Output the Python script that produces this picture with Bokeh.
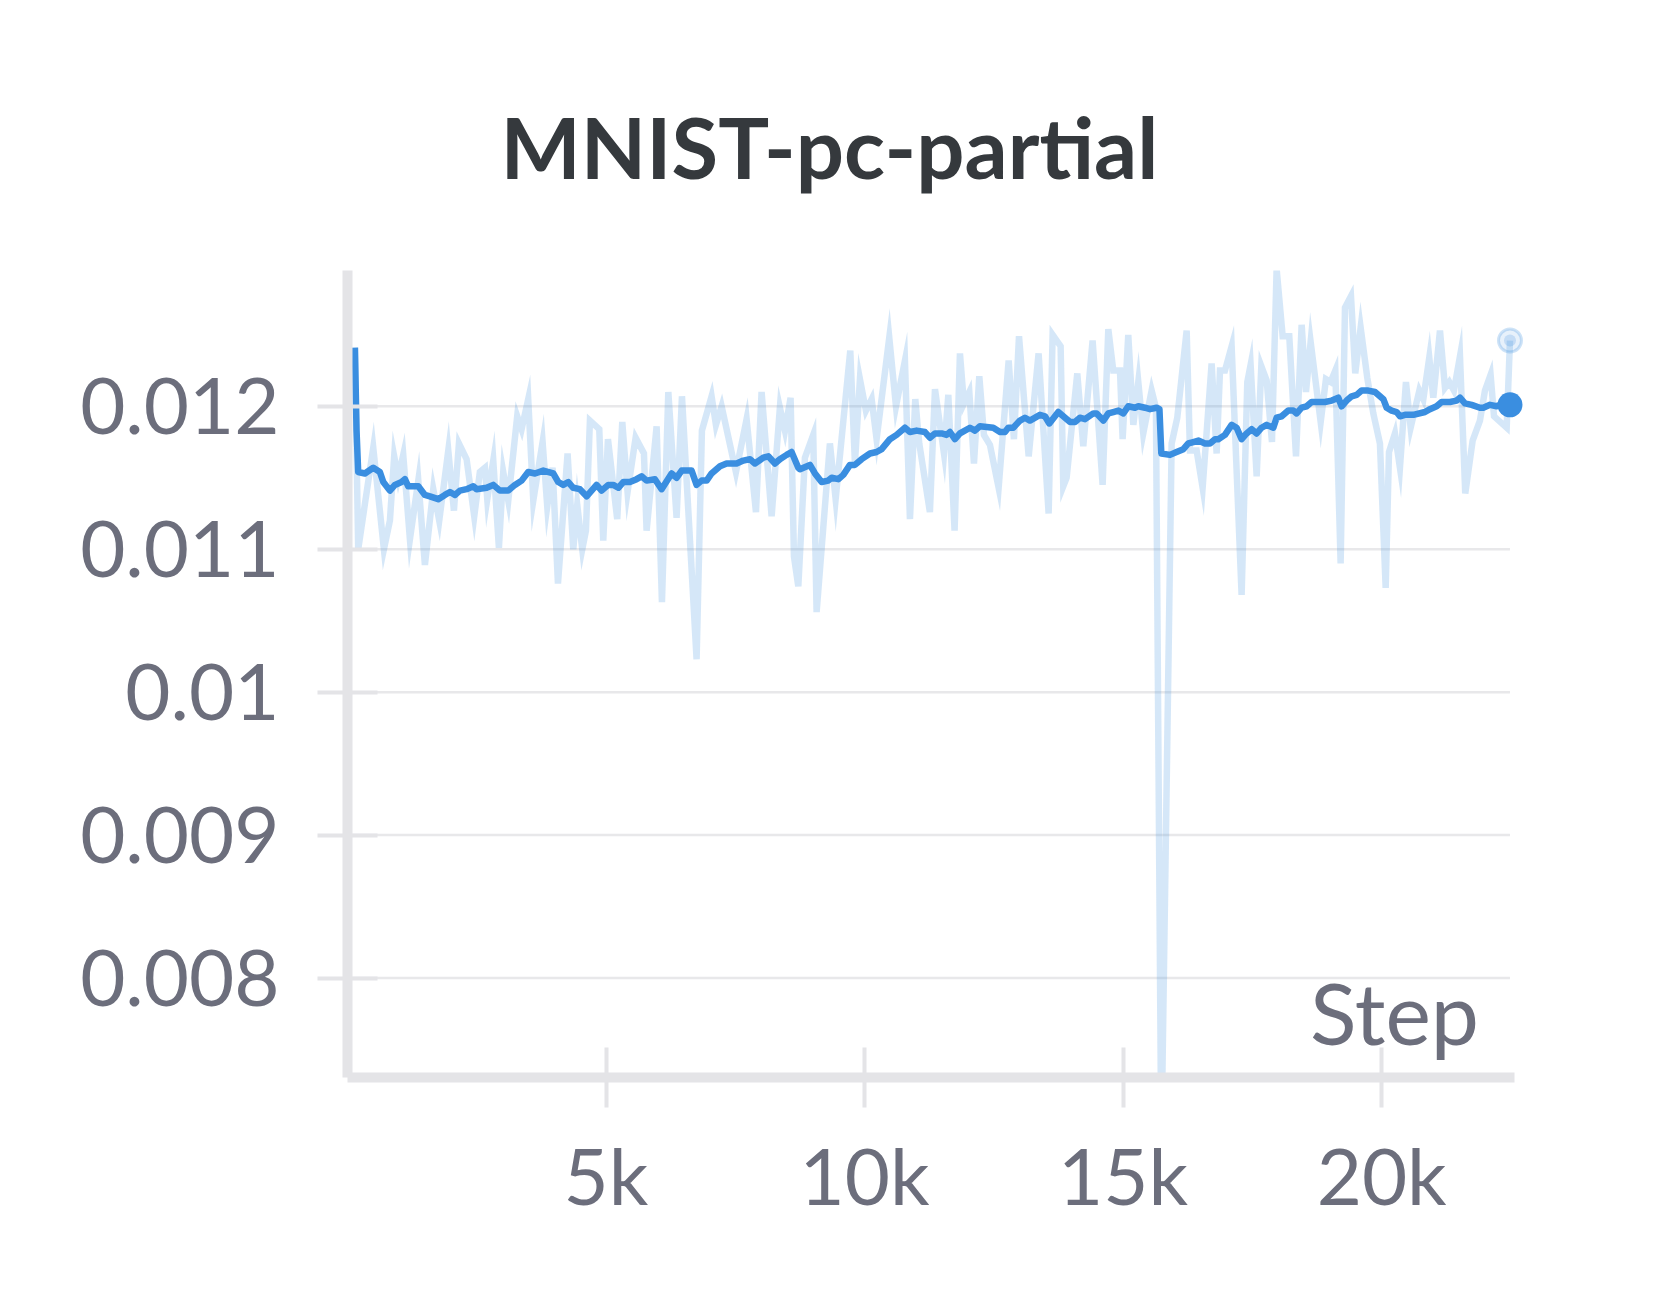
from bokeh.plotting import figure
from bokeh.models import Range1d, FixedTicker, Label
from bokeh.embed import file_html
from bokeh.resources import INLINE

title_text = "MNIST-pc-partial"
x_label_text = "Step"

x_ticks = [5000, 10000, 15000, 20000]
x_tick_labels = ["5k", "10k", "15k", "20k"]
y_ticks = [0.008, 0.009, 0.010, 0.011, 0.012]
y_tick_labels = ["0.008", "0.009", "0.01", "0.011", "0.012"]

raw_steps = [
    143, 207, 498, 704, 820, 903, 981, 1078, 1207, 1369,
    1497, 1659, 1774, 1949, 2058, 2155, 2303, 2451, 2560, 2658,
    2703, 2819, 2928, 3012, 3109, 3282, 3367, 3495, 3593, 3773,
    3863, 3966, 4070, 4256, 4366, 4443, 4540, 4611, 4688, 4869,
    4946, 5037, 5216, 5314, 5416, 5572, 5733, 5784, 5978, 6081,
    6204, 6364, 6468, 6751, 6854, 7041, 7125, 7235, 7512, 7718,
    7899, 8008, 8202, 8362, 8460, 8569, 8634, 8718, 8846, 9007,
    9072, 9329, 9440, 9723, 9813, 9910, 10026, 10136, 10232, 10477,
    10607, 10780, 10877, 10980, 11057, 11263, 11361, 11535, 11619, 11740,
    11844, 11921, 12025, 12115, 12218, 12308, 12424, 12592, 12786, 12888,
    12986, 13173, 13365, 13559, 13636, 13791, 13842, 13907, 14113, 14229,
    14409, 14603, 14713, 14809, 14939, 14990, 15099, 15197, 15293, 15389,
    15551, 15634, 15738, 15938, 16047, 16228, 16292, 16421, 16537, 16711,
    16808, 16873, 16969, 17098, 17291, 17401, 17465, 17582, 17672, 17775,
    17878, 17968, 18085, 18213, 18343, 18452, 18536, 18626, 18820, 18922,
    19013, 19103, 19206, 19290, 19406, 19489, 19593, 19721, 19838, 19966,
    20077, 20141, 20256, 20353, 20469, 20560, 20728, 20805, 20920, 20998,
    21127, 21224, 21307, 21397, 21514, 21616, 21759, 21900, 21997, 22106,
    22172, 22417, 22481,
]
raw_values = [
    0.01241, 0.01100, 0.01171, 0.01100, 0.01120, 0.01165, 0.01150, 0.01166, 0.01107, 0.01148,
    0.01089, 0.01142, 0.01120, 0.01169, 0.01127, 0.01174, 0.01163, 0.01123, 0.01154, 0.01157,
    0.01135, 0.01162, 0.01101, 0.01154, 0.01134, 0.01193, 0.01184, 0.01205, 0.01134, 0.01175,
    0.01130, 0.01157, 0.01076, 0.01167, 0.01100, 0.01131, 0.01100, 0.01113, 0.01190, 0.01184,
    0.01106, 0.01177, 0.01121, 0.01189, 0.01140, 0.01178, 0.01167, 0.01113, 0.01186, 0.01063,
    0.01210, 0.01122, 0.01207, 0.01023, 0.01183, 0.01207, 0.01187, 0.01200, 0.01154, 0.01191,
    0.01126, 0.01210, 0.01123, 0.01199, 0.01183, 0.01206, 0.01095, 0.01074, 0.01164, 0.01180,
    0.01056, 0.01174, 0.01135, 0.01239, 0.01160, 0.01219, 0.01197, 0.01205, 0.01177, 0.01248,
    0.01200, 0.01232, 0.01121, 0.01205, 0.01174, 0.01126, 0.01212, 0.01167, 0.01208, 0.01113,
    0.01237, 0.01202, 0.01210, 0.01160, 0.01221, 0.01180, 0.01173, 0.01143, 0.01232, 0.01177,
    0.01249, 0.01165, 0.01237, 0.01125, 0.01250, 0.01242, 0.01144, 0.01150, 0.01223, 0.01172,
    0.01246, 0.01145, 0.01254, 0.01225, 0.01225, 0.01177, 0.01250, 0.01187, 0.01217, 0.01181,
    0.01211, 0.01199, 0.00680, 0.01174, 0.01192, 0.01253, 0.01169, 0.01169, 0.01143, 0.01230,
    0.01167, 0.01225, 0.01225, 0.01242, 0.01068, 0.01217, 0.01229, 0.01151, 0.01228, 0.01218,
    0.01175, 0.01296, 0.01249, 0.01249, 0.01165, 0.01257, 0.01210, 0.01245, 0.01189, 0.01219,
    0.01217, 0.01225, 0.01090, 0.01269, 0.01277, 0.01223, 0.01255, 0.01220, 0.01195, 0.01174,
    0.01073, 0.01168, 0.01181, 0.01157, 0.01217, 0.01185, 0.01211, 0.01205, 0.01234, 0.01206,
    0.01253, 0.01213, 0.01217, 0.01211, 0.01235, 0.01139, 0.01176, 0.01190, 0.01211, 0.01222,
    0.01193, 0.01185, 0.01246,
]

smooth_steps = [
    143, 175, 207, 336, 498, 626, 692, 820, 917, 1046,
    1110, 1175, 1369, 1497, 1593, 1755, 1884, 1981, 2077, 2174,
    2303, 2432, 2496, 2690, 2819, 2947, 3044, 3109, 3238, 3367,
    3495, 3625, 3786, 3979, 4076, 4172, 4270, 4366, 4494, 4624,
    4817, 4914, 5043, 5139, 5237, 5333, 5461, 5591, 5687, 5784,
    5945, 6074, 6268, 6364, 6462, 6654, 6751, 6848, 6945, 7041,
    7203, 7331, 7525, 7654, 7783, 7879, 8040, 8138, 8266, 8362,
    8492, 8588, 8718, 8750, 8943, 9040, 9169, 9297, 9363, 9491,
    9588, 9717, 9813, 9942, 10104, 10232, 10330, 10490, 10619, 10780,
    10877, 11006, 11167, 11263, 11361, 11489, 11586, 11651, 11747, 11844,
    12038, 12134, 12230, 12488, 12618, 12714, 12779, 12875, 13005, 13101,
    13197, 13391, 13488, 13572, 13746, 13876, 13973, 14069, 14164, 14262,
    14423, 14487, 14617, 14713, 14809, 14907, 15003, 15099, 15229, 15293,
    15422, 15519, 15648, 15702, 15738, 15906, 16034, 16164, 16260, 16357,
    16454, 16583, 16679, 16776, 16841, 16969, 17098, 17195, 17291, 17388,
    17485, 17582, 17678, 17775, 17904, 17968, 18066, 18194, 18290, 18355,
    18452, 18549, 18645, 18774, 18903, 19033, 19161, 19225, 19322, 19419,
    19516, 19612, 19741, 19870, 19966, 20032, 20096, 20192, 20289, 20353,
    20450, 20611, 20837, 20933, 21062, 21159, 21320, 21449, 21514, 21610,
    21740, 21900, 21965, 22094, 22223, 22352, 22481,
]
smooth_values = [
    0.01241, 0.01183, 0.01154, 0.01153, 0.01157, 0.01154, 0.01147, 0.01141, 0.01145, 0.01147,
    0.01149, 0.01144, 0.01144, 0.01138, 0.01137, 0.01135, 0.01138, 0.01140, 0.01138, 0.01141,
    0.01142, 0.01144, 0.01142, 0.01143, 0.01145, 0.01141, 0.01141, 0.01141, 0.01145, 0.01148,
    0.01154, 0.01153, 0.01155, 0.01153, 0.01147, 0.01145, 0.01147, 0.01143, 0.01142, 0.01137,
    0.01145, 0.01141, 0.01145, 0.01145, 0.01143, 0.01147, 0.01147, 0.01149, 0.01151, 0.01148,
    0.01149, 0.01142, 0.01153, 0.01150, 0.01155, 0.01155, 0.01145, 0.01148, 0.01148, 0.01153,
    0.01158, 0.01160, 0.01160, 0.01162, 0.01163, 0.01160, 0.01164, 0.01165, 0.01160, 0.01163,
    0.01166, 0.01168, 0.01157, 0.01156, 0.01159, 0.01153, 0.01147, 0.01148, 0.01150, 0.01149,
    0.01152, 0.01159, 0.01159, 0.01163, 0.01167, 0.01168, 0.01170, 0.01177, 0.01180, 0.01185,
    0.01182, 0.01183, 0.01182, 0.01178, 0.01181, 0.01181, 0.01180, 0.01182, 0.01177, 0.01181,
    0.01185, 0.01183, 0.01186, 0.01185, 0.01182, 0.01182, 0.01185, 0.01185, 0.01190, 0.01192,
    0.01190, 0.01194, 0.01193, 0.01188, 0.01196, 0.01192, 0.01189, 0.01189, 0.01192, 0.01191,
    0.01195, 0.01195, 0.01190, 0.01195, 0.01196, 0.01197, 0.01195, 0.01200, 0.01199, 0.01200,
    0.01199, 0.01198, 0.01199, 0.01198, 0.01167, 0.01166, 0.01168, 0.01170, 0.01174, 0.01175,
    0.01176, 0.01174, 0.01174, 0.01177, 0.01177, 0.01180, 0.01187, 0.01185, 0.01177, 0.01181,
    0.01184, 0.01181, 0.01185, 0.01187, 0.01185, 0.01192, 0.01193, 0.01197, 0.01197, 0.01195,
    0.01199, 0.01200, 0.01203, 0.01203, 0.01203, 0.01204, 0.01206, 0.01200, 0.01204, 0.01207,
    0.01208, 0.01211, 0.01211, 0.01210, 0.01207, 0.01205, 0.01199, 0.01197, 0.01196, 0.01193,
    0.01194, 0.01194, 0.01196, 0.01198, 0.01200, 0.01203, 0.01203, 0.01204, 0.01206, 0.01202,
    0.01201, 0.01199, 0.01199, 0.01201, 0.01200, 0.01202, 0.01201,
]

BLUE = "#3a8ee0"
AXIS_GRAY = "#e4e4e7"
GRID_GRAY = "#e8e8ea"
LABEL_GRAY = "#6c6e7c"
FONT = "Lato"

last_step = raw_steps[-1]
x_pad = 300  # room so the end dots are not clipped

p = figure(
    width=1640, height=1290,
    output_backend="svg", toolbar_location=None,
    x_range=Range1d(0, last_step + x_pad), y_range=Range1d(0.007304, 0.01295),
    min_border_left=347, min_border_right=115,
    min_border_top=270, min_border_bottom=213,
)
p.outline_line_color = None
p.background_fill_color = "white"
p.border_fill_color = "white"

# title
p.title.text = title_text
p.title.align = "left"
p.title.offset = 153
p.title.standoff = 147
p.title.text_font = FONT
p.title.text_font_style = "bold"
p.title.text_font_size = "85px"
p.title.text_color = "#35393d"

# grid: horizontal lines ending at the last logged step
p.xgrid.grid_line_color = None
p.ygrid.grid_line_color = None
p.segment(x0=[0] * len(y_ticks), x1=[last_step] * len(y_ticks), y0=y_ticks, y1=y_ticks,
          line_color=GRID_GRAY, line_width=2.5)

# axes
for ax in (p.xaxis[0], p.yaxis[0]):
    ax.axis_line_color = AXIS_GRAY
    ax.axis_line_width = 10
    ax.major_tick_line_color = AXIS_GRAY
    ax.major_tick_line_width = 4
    ax.major_tick_in = 30
    ax.major_tick_out = 30
    ax.minor_tick_line_color = None
    ax.major_label_text_font = FONT
    ax.major_label_text_font_size = "78px"
    ax.major_label_text_color = LABEL_GRAY

p.xaxis.bounds = (0, last_step + 80)
p.xaxis.ticker = FixedTicker(ticks=x_ticks)
p.xaxis.major_label_overrides = dict(zip(x_ticks, x_tick_labels))
p.xaxis.major_label_standoff = 20
p.yaxis.ticker = FixedTicker(ticks=y_ticks)
p.yaxis.major_label_overrides = dict(zip(y_ticks, y_tick_labels))
p.yaxis.major_label_standoff = 38

# lines
p.line(raw_steps, raw_values, line_color=BLUE, line_alpha=0.21, line_width=6.5, line_join="miter")
p.line(smooth_steps, smooth_values, line_color=BLUE, line_width=6.5, line_join="round")

# end markers
p.scatter([raw_steps[-1]], [raw_values[-1]], size=23, fill_color=BLUE, fill_alpha=0.12,
          line_color=BLUE, line_alpha=0.25, line_width=3)
p.scatter([raw_steps[-1]], [raw_values[-1]], size=12, fill_color=BLUE, fill_alpha=0.2, line_color=None)
p.scatter([smooth_steps[-1]], [smooth_values[-1]], size=25, fill_color=BLUE, line_color=None)

step_label = Label(x=last_step, y=0.007304, text=x_label_text, text_align="right",
                   text_baseline="alphabetic", x_offset=-31, y_offset=66,
                   text_font=FONT, text_font_size="86px", text_color=LABEL_GRAY)
p.add_layout(step_label)

open("out.html", "w").write(file_html(p, INLINE))
